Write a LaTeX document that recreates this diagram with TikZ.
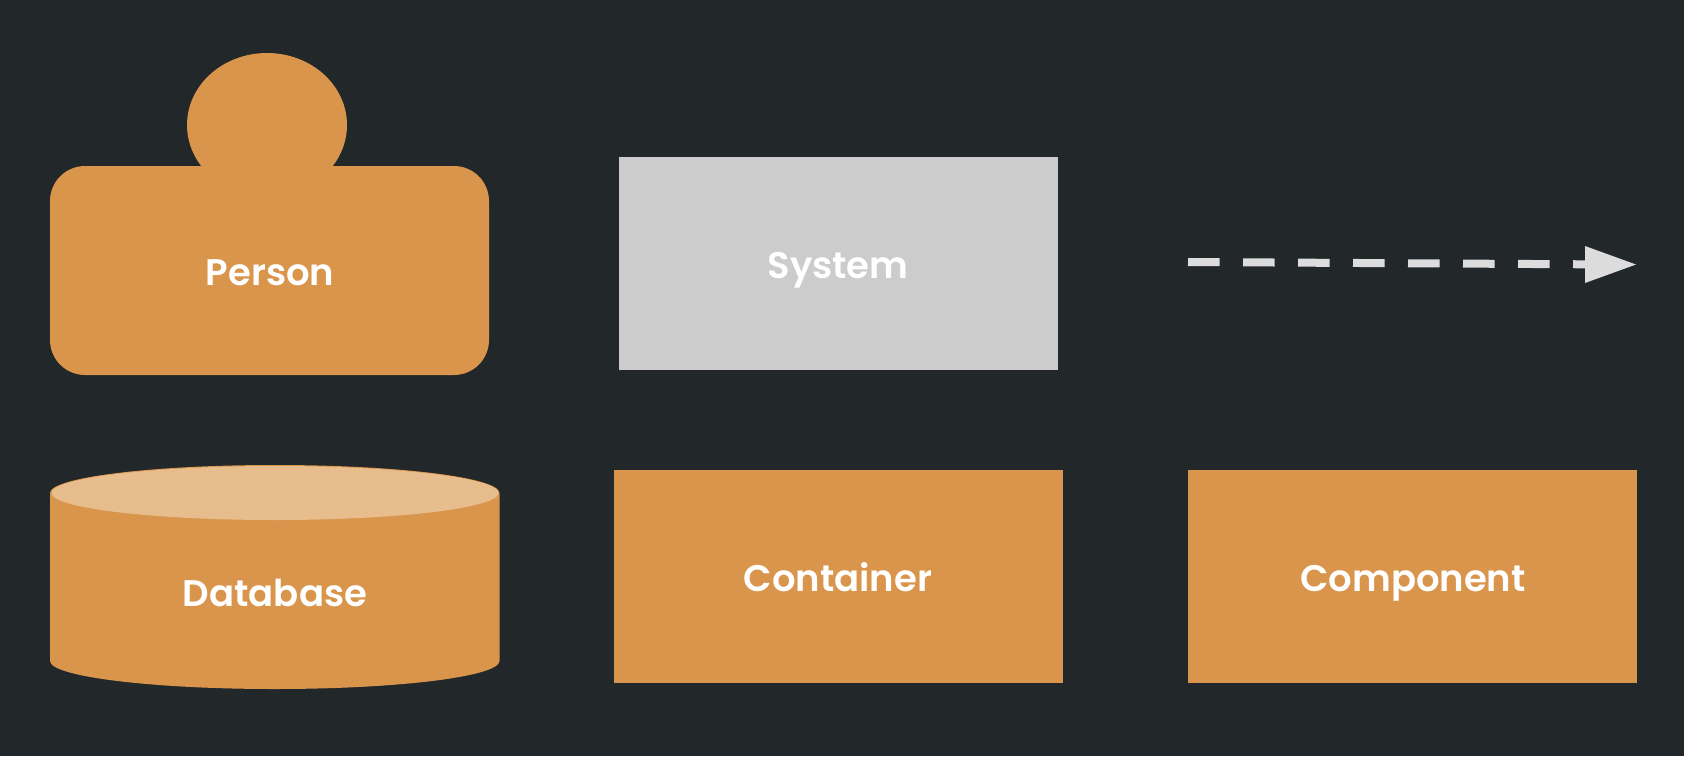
\documentclass[tikz,border=0pt]{standalone}
\usepackage{fontspec}
\setmainfont{Poppins}[BoldFont={Poppins SemiBold}]
\definecolor{pagebg}{HTML}{22272A}
\definecolor{ochre}{HTML}{DA954C}
\definecolor{ochrelight}{HTML}{E8BD8E}
\definecolor{sysgrey}{HTML}{CCCCCC}
\definecolor{linkgrey}{HTML}{DCDCDC}
\tikzset{
  label text/.style={text=white,font=\bfseries\fontsize{37}{44}\selectfont,inner sep=0pt,anchor=base},
  block/.style={fill=#1,draw=none,inner sep=0pt,minimum width=449pt,minimum height=213pt},
}
\begin{document}
\begin{tikzpicture}[x=1pt,y=-1pt]
  \path[use as bounding box,fill=pagebg] (0,0) rectangle (1684,756);

  % person: head ellipse behind a rounded body
  \fill[ochre] (267,125) ellipse [x radius=80,y radius=72];
  \fill[ochre,rounded corners=35pt] (50,166) rectangle (489,375);
  \node[label text] (person) at (270,285) {Person};

  % database cylinder; y runs downwards, so the upper rim is the 180 to 360 arc
  \fill[ochre] (50,493) arc [start angle=180,end angle=360,x radius=224.75,y radius=28]
    -- (499.5,661) arc [start angle=0,end angle=180,x radius=224.75,y radius=28] -- cycle;
  \fill[ochrelight] (275,493) ellipse [x radius=223.5,y radius=27];
  \node[label text] (database) at (275,606) {Database};

  % plain boxes
  \node[block=sysgrey,minimum width=439pt,anchor=north west] (system) at (619,157) {};
  \node[label text] (systemlabel) at (838,278) {System};
  \node[block=ochre,anchor=north west] (container) at (614,470) {};
  \node[label text] (containerlabel) at (838,591) {Container};
  \node[block=ochre,anchor=north west] (component) at (1188,470) {};
  \node[label text] (componentlabel) at (1413,591) {Component};

  % dashed relationship sample
  \coordinate (linkstart) at (1188,262);
  \coordinate (linkend) at (1585,264.3);
  \coordinate (linktip) at (1636,264.5);
  \draw[linkgrey,line width=8pt,dash pattern=on 31.7pt off 23.3pt] (linkstart) -- (linkend);
  \fill[linkgrey] (1585,246) -- (linktip) -- (1585,283) -- cycle;
\end{tikzpicture}
\end{document}
